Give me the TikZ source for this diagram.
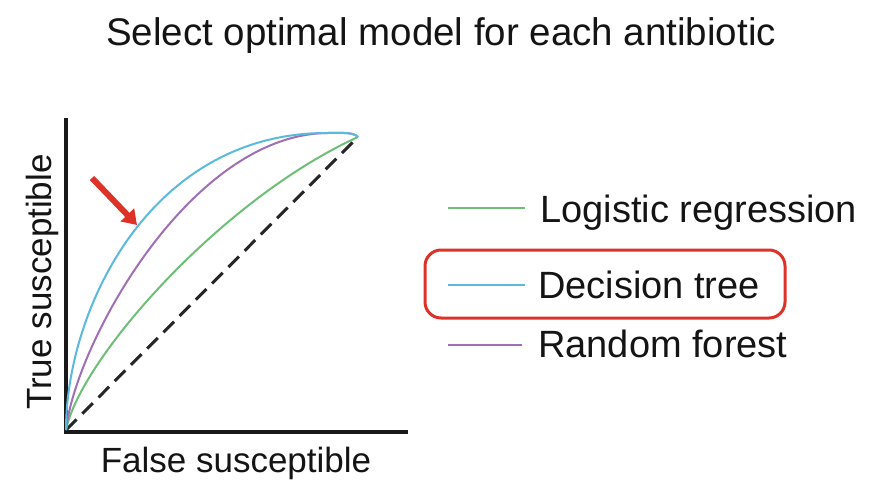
\documentclass[tikz,border=0pt]{standalone}
\usepackage{fontspec}
\setmainfont{Liberation Sans}
\usetikzlibrary{arrows.meta}
\definecolor{lrgreen}{RGB}{110,190,120}
\definecolor{dtblue}{RGB}{90,185,220}
\definecolor{rfpurple}{RGB}{160,110,180}
\definecolor{hlred}{RGB}{220,50,40}
\begin{document}
\begin{tikzpicture}[x=1pt,y=-1pt,
  lbl/.style={inner sep=0pt,anchor=base west,text=black!92,font=\fontsize{38}{44}\selectfont},
  axislbl/.style={inner sep=0pt,anchor=base,text=black!92,font=\fontsize{35}{42}\selectfont},
  axisline/.style={line width=4pt,black!90},
  curve/.style={line width=2pt},
  legline/.style={line width=2pt}]
\useasboundingbox (0,0) rectangle (885,484);
\node[inner sep=0pt,anchor=base,text=black!92,font=\fontsize{38.5}{44}\selectfont] (title) at (441,46) {Select optimal model for each antibiotic};
% axes
\coordinate (o) at (66,432);
\coordinate (ytop) at (66,118);
\coordinate (xend) at (408,432);
\draw[axisline] (ytop) -- (o) -- (xend);
\node[axislbl,rotate=90] (ylab) at (51,282) {True susceptible};
\node[axislbl] (xlab) at (236,472) {False susceptible};
% curves
\coordinate (s) at (66,430);
\coordinate (e) at (358,137);
\coordinate (pk) at (328,133);
\draw[dashed,line width=3pt,dash pattern=on 15pt off 8pt,black!85] (s) -- (e);
\draw[curve,lrgreen] (s) .. controls (80,360) and (220,200) .. (e);
\draw[curve,rfpurple] (s) .. controls (75,345) and (190,134) .. (pk) .. controls (343,133) and (353,132) .. (e);
\draw[curve,dtblue] (s) .. controls (66,310) and (150,132) .. (pk) .. controls (343,133) and (353,132) .. (e);
% arrow
\coordinate (at) at (92,178);
\coordinate (ah) at (137,225);
\draw[hlred,line width=6pt,-{Triangle[length=14pt,width=18pt]}] (at) -- (ah);
% legend
\coordinate (g1) at (448,208); \coordinate (g2) at (525,208);
\coordinate (b1) at (448,285); \coordinate (b2) at (525,285);
\coordinate (p1) at (448,345); \coordinate (p2) at (522,345);
\draw[legline,lrgreen] (g1) -- (g2);
\draw[legline,dtblue] (b1) -- (b2);
\draw[legline,rfpurple] (p1) -- (p2);
\node[lbl] (lr) at (540,222) {Logistic regression};
\node[lbl] (dt) at (538,298) {Decision tree};
\node[lbl] (rf) at (538,357) {Random forest};
\draw[hlred,line width=3pt,rounded corners=16pt] (425,250) rectangle (785,318);
\end{tikzpicture}
\end{document}
